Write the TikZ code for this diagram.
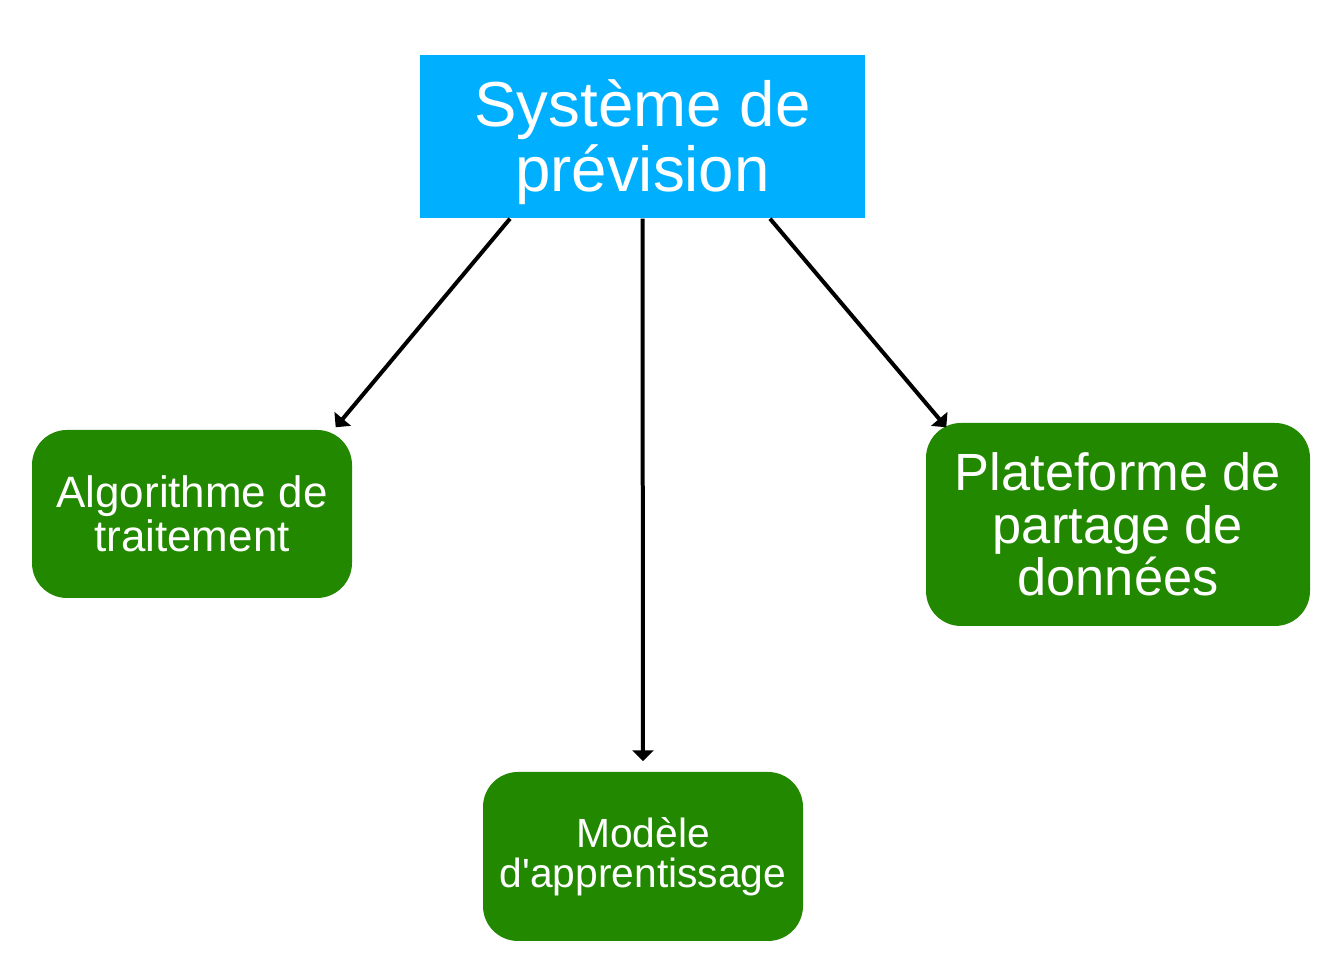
\documentclass[tikz,border=0pt]{standalone}
\usepackage{fontspec}
\setmainfont{Liberation Sans}
\usetikzlibrary{arrows.meta}
\definecolor{sysblue}{HTML}{00B0FF}
\definecolor{boxgreen}{HTML}{228800}
\begin{document}
\begin{tikzpicture}[
		sysbox/.style={fill=sysblue, text=white, align=center, inner sep=0pt},
		partbox/.style={fill=boxgreen, text=white, align=center, inner sep=0pt, rounded corners=.35cm},
		link/.style={-{Triangle[length=1.1mm, width=2.1mm]}, line width=.04cm}
	]
			\useasboundingbox (0,0) rectangle (13.3,9.68);
			\node (sys) [sysbox, minimum width=4.45cm, minimum height=1.63cm, font=\fontsize{18.1}{18.6}\selectfont] at (6.425,8.315)
				{\rule{0pt}{16.5pt}Système de\\prévision};
			\node (algo) [partbox, minimum width=3.2cm, minimum height=1.68cm, font=\fontsize{12.5}{12.5}\selectfont] at (1.92,4.54)
				{Algorithme de\\traitement};
			\node (share) [partbox, minimum width=3.84cm, minimum height=2.03cm, font=\fontsize{14.9}{15}\selectfont] at (11.18,4.435)
				{Plateforme de\\partage de\\données};
			\node (model) [partbox, minimum width=3.2cm, minimum height=1.69cm, font=\fontsize{11.6}{11.5}\selectfont] at (6.43,1.115)
				{Modèle\\d\textquotesingle apprentissage};
			\draw [link] ([xshift=-1.325cm]sys.south) -- ([xshift=-.17cm, yshift=.02cm]algo.north east);
			\draw [link] (sys.south) -- ([yshift=.1cm]model.north);
			\draw [link] ([xshift=1.275cm]sys.south) -- ([xshift=.21cm, yshift=-.05cm]share.north west);
		\end{tikzpicture}
\end{document}
